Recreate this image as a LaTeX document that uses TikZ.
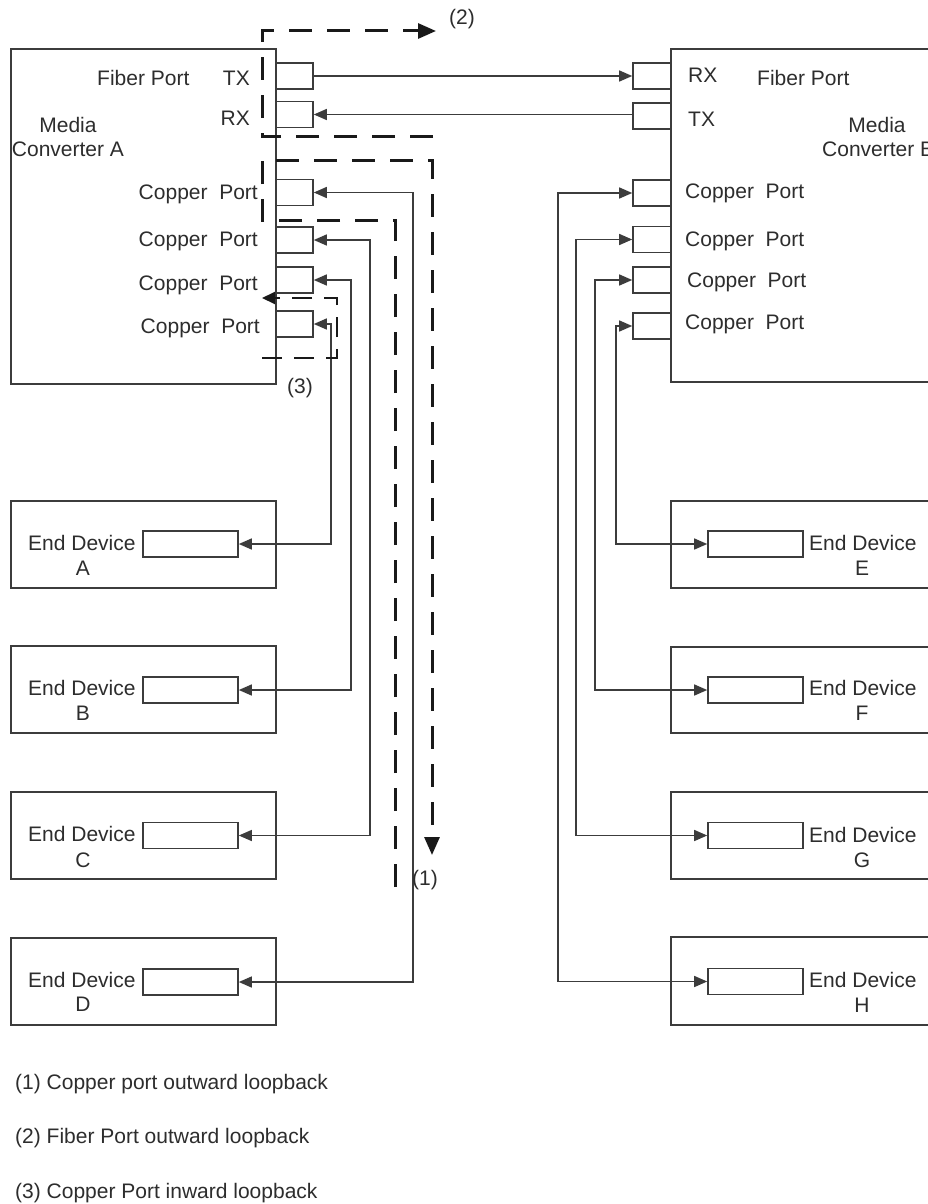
\documentclass[tikz,border=0pt]{standalone}
\usepackage{fontspec}
\setmainfont{Liberation Sans}
\usetikzlibrary{arrows.meta}
\definecolor{lc}{RGB}{60,60,60}
\definecolor{tc}{RGB}{45,45,45}
\definecolor{dc}{RGB}{25,25,25}
\begin{document}
\begin{tikzpicture}[x=1pt,y=-1pt,
  box/.style={draw=lc, line width=1.6pt, inner sep=0pt},
  port/.style={draw=lc, line width=1.6pt, inner sep=0pt, minimum height=26pt},
  txt/.style={text=tc, inner sep=0pt, font=\fontsize{21}{25}\selectfont},
  conn/.style={draw=lc, line width=1.4pt, {Triangle[length=13pt,width=11pt]}-{Triangle[length=13pt,width=11pt]}},
  fib/.style={draw=lc, line width=1.4pt, -{Triangle[length=13pt,width=11pt]}},
  loopa/.style={draw=dc, line width=3pt, dash pattern=on 23pt off 15pt, -{Triangle[length=18pt,width=15pt]}},
  loopb/.style={draw=dc, line width=2pt, dash pattern=on 20pt off 12pt, -{Triangle[length=13pt,width=12pt]}}
]
\useasboundingbox (0,0) rectangle (928,1204);
\clip (0,0) rectangle (928,1204);
\fill[white] (0,0) rectangle (928,1204);

% Media converters
\node[box, minimum width=265pt, minimum height=335pt] (mcA) at (143.5,216.5) {};
\node[box, minimum width=269pt, minimum height=333pt] (mcB) at (805.5,215.5) {};

% ports on A
\node[port, minimum width=37pt] (atx) at (294.5,76) {};
\node[port, minimum width=37pt] (arx) at (294.5,114.5) {};
\node[port, minimum width=37pt] (ac1) at (294.5,192.5) {};
\node[port, minimum width=37pt] (ac2) at (294.5,240) {};
\node[port, minimum width=37pt] (ac3) at (294.5,280) {};
\node[port, minimum width=37pt] (ac4) at (294.5,324) {};
% ports on B
\node[port, minimum width=38pt] (brx) at (652,76) {};
\node[port, minimum width=38pt] (btx) at (652,116) {};
\node[port, minimum width=38pt] (bc1) at (652,193) {};
\node[port, minimum width=38pt] (bc2) at (652,239.5) {};
\node[port, minimum width=38pt] (bc3) at (652,280) {};
\node[port, minimum width=38pt] (bc4) at (652,326) {};

% texts on A
\node[txt, anchor=base west] (tfa) at (97,86) {Fiber Port};
\node[txt, anchor=base east] (ttxa) at (250,86) {TX};
\node[txt, anchor=base east] (trxa) at (250,126) {RX};
\node[txt, anchor=base] (tma) at (68,132) {Media};
\node[txt, anchor=base] (tca) at (68,157) {Converter A};
\node[txt, anchor=base east] (tcp1) at (258,199) {Copper~ Port};
\node[txt, anchor=base east] (tcp2) at (258,246) {Copper~ Port};
\node[txt, anchor=base east] (tcp3) at (258,290) {Copper~ Port};
\node[txt, anchor=base east] (tcp4) at (260,333) {Copper~ Port};
% texts on B
\node[txt, anchor=base west] (trxb) at (688,83) {RX};
\node[txt, anchor=base west] (tfb) at (757,86) {Fiber Port};
\node[txt, anchor=base west] (ttxb) at (688,127) {TX};
\node[txt, anchor=base] (tmb) at (877,132) {Media};
\node[txt, anchor=base west] (tcb) at (822,157) {Converter B};
\node[txt, anchor=base west] (tcq1) at (685,198) {Copper~ Port};
\node[txt, anchor=base west] (tcq2) at (685,246) {Copper~ Port};
\node[txt, anchor=base west] (tcq3) at (687,287) {Copper~ Port};
\node[txt, anchor=base west] (tcq4) at (685,329) {Copper~ Port};

% end devices left
\node[box, minimum width=265pt, minimum height=87pt] (devA) at (143.5,544.5) {};
\node[box, minimum width=265pt, minimum height=87pt] (devB) at (143.5,689.5) {};
\node[box, minimum width=265pt, minimum height=87pt] (devC) at (143.5,835.5) {};
\node[box, minimum width=265pt, minimum height=87pt] (devD) at (143.5,981.5) {};
\node[port, minimum width=95pt] (edA) at (190.5,544) {};
\node[port, minimum width=95pt] (edB) at (190.5,690) {};
\node[port, minimum width=95pt] (edC) at (190.5,835.5) {};
\node[port, minimum width=95pt] (edD) at (190.5,982) {};
\node[txt, anchor=base west] (tA1) at (28,550) {End Device};
\node[txt, anchor=base] (tA2) at (83,575) {A};
\node[txt, anchor=base west] (tB1) at (28,695) {End Device};
\node[txt, anchor=base] (tB2) at (83,720) {B};
\node[txt, anchor=base west] (tC1) at (28,841) {End Device};
\node[txt, anchor=base] (tC2) at (83,867) {C};
\node[txt, anchor=base west] (tD1) at (28,987) {End Device};
\node[txt, anchor=base] (tD2) at (83,1011) {D};

% end devices right
\node[box, minimum width=269pt, minimum height=87pt] (devE) at (805.5,544.5) {};
\node[box, minimum width=269pt, minimum height=86pt] (devF) at (805.5,690) {};
\node[box, minimum width=269pt, minimum height=87pt] (devG) at (805.5,835.5) {};
\node[box, minimum width=269pt, minimum height=88pt] (devH) at (805.5,981) {};
\node[port, minimum width=95pt] (edE) at (755.5,544) {};
\node[port, minimum width=95pt] (edF) at (755.5,690) {};
\node[port, minimum width=95pt] (edG) at (755.5,835.5) {};
\node[port, minimum width=95pt] (edH) at (755.5,981.5) {};
\node[txt, anchor=base west] (tE1) at (809,550) {End Device};
\node[txt, anchor=base] (tE2) at (862,575) {E};
\node[txt, anchor=base west] (tF1) at (809,695) {End Device};
\node[txt, anchor=base] (tF2) at (862,720) {F};
\node[txt, anchor=base west] (tG1) at (809,842) {End Device};
\node[txt, anchor=base] (tG2) at (862,867) {G};
\node[txt, anchor=base west] (tH1) at (809,987) {End Device};
\node[txt, anchor=base] (tH2) at (862,1012) {H};

% fiber links
\draw[fib] (atx.east) -- (brx.west);
\draw[fib] (btx.west |- arx.east) -- (arx.east);

% copper links A
\coordinate (xa1) at (413,0);
\coordinate (xa2) at (370,0);
\coordinate (xa3) at (351,0);
\coordinate (xa4) at (331,0);
\draw[conn] (ac1.east) -- (ac1.east -| xa1) |- (edD.east);
\draw[conn] (ac2.east) -- (ac2.east -| xa2) |- (edC.east);
\draw[conn] (ac3.east) -- (ac3.east -| xa3) |- (edB.east);
\draw[conn] (ac4.east) -- (ac4.east -| xa4) |- (edA.east);
% copper links B
\coordinate (xb1) at (558,0);
\coordinate (xb2) at (576,0);
\coordinate (xb3) at (595,0);
\coordinate (xb4) at (616,0);
\draw[conn] (bc1.west) -- (bc1.west -| xb1) |- (edH.west);
\draw[conn] (bc2.west) -- (bc2.west -| xb2) |- (edG.west);
\draw[conn] (bc3.west) -- (bc3.west -| xb3) |- (edF.west);
\draw[conn] (bc4.west) -- (bc4.west -| xb4) |- (edE.west);

% loopback (2) fiber
\coordinate (l2s) at (433,137);
\coordinate (l2e) at (436,31);
\draw[loopa] (l2s) -- (262,137) -- (262,31) -- (l2e);
% loopback (1) copper outward
\coordinate (l1s) at (395,887);
\coordinate (l1e) at (432,855);
\draw[loopa] (l1s) -- (395,220) -- (262,220) -- (262,160) -- (432,160) -- (l1e);
% loopback (3) copper inward
\coordinate (l3s) at (262,358);
\coordinate (l3e) at (262,298);
\draw[loopb] (l3s) -- (337,358) -- (337,298) -- (l3e);

% labels
\node[txt] (lab2) at (462,19) {(2)};
\node[txt] (lab1) at (425,880) {(1)};
\node[txt] (lab3) at (300,388) {(3)};

% legend
\node[txt, anchor=base west] (leg1) at (15,1089) {(1) Copper port outward loopback};
\node[txt, anchor=base west] (leg2) at (15,1143) {(2) Fiber Port outward loopback};
\node[txt, anchor=base west] (leg3) at (15,1198) {(3) Copper Port inward loopback};
\end{tikzpicture}
\end{document}
